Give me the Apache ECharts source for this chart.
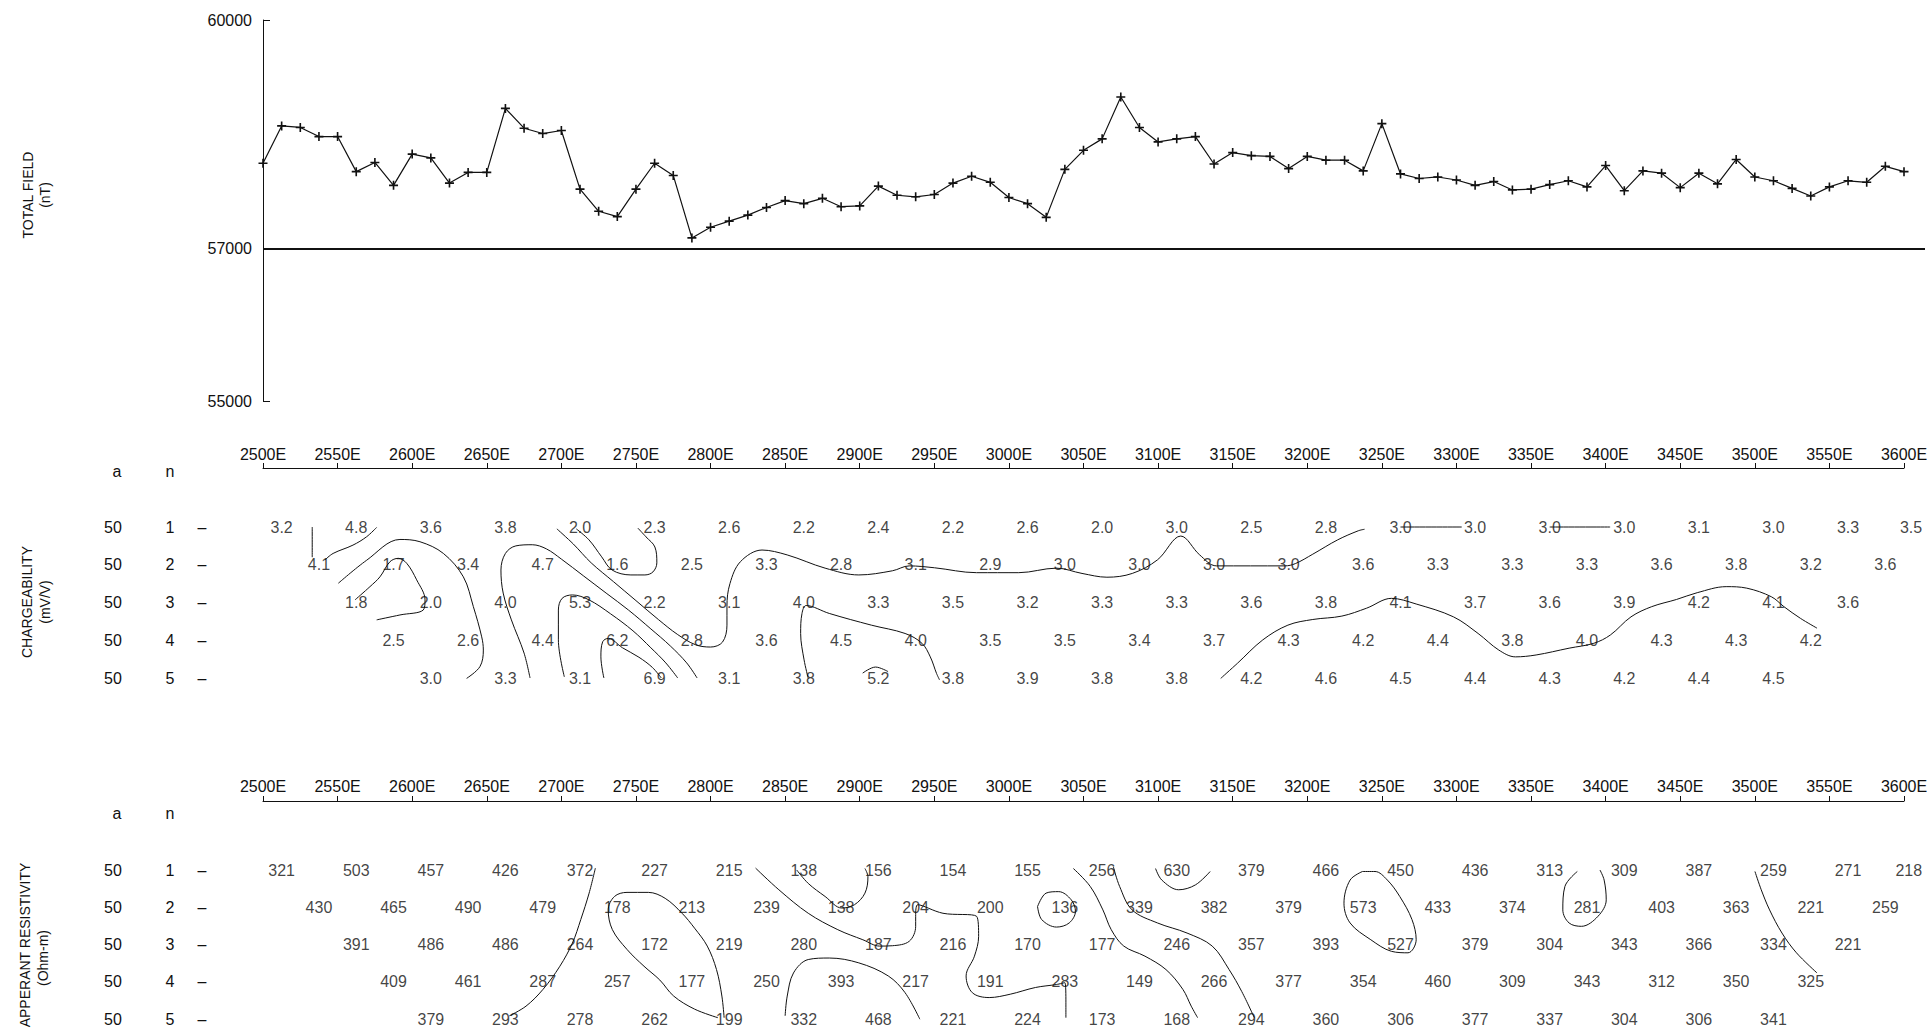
<!DOCTYPE html>
<html>
<head>
<meta charset="utf-8">
<title>Line 2500E-3600E: magnetics and IP pseudosections</title>
<script src="https://cdn.jsdelivr.net/npm/echarts@6/dist/echarts.min.js"></script>
<style>
  html, body { margin: 0; padding: 0; background: #ffffff; }
  #chart { width: 1928px; height: 1034px; }
</style>
</head>
<body>
<div id="chart"></div>
<script>
// ---------------- Total magnetic field (nT), readings every 12.5 m from 2500E ----------------
const magStart = 2500;
const magStep = 12.5;
const totalField = [
  58120, 58610, 58590, 58470, 58470, 58010, 58130, 57830, 58240, 58190, 57860, 58000,
  58000, 58840, 58580, 58510, 58550, 57780, 57490, 57420, 57780, 58120, 57960, 57140,
  57280, 57360, 57440, 57540, 57630, 57590, 57660, 57550, 57560, 57820, 57700, 57680,
  57710, 57860, 57950, 57870, 57670, 57590, 57410, 58040, 58290, 58440,
  58990, 58590, 58400, 58440, 58470, 58110, 58260, 58220, 58210, 58050, 58210, 58160,
  58160, 58020, 58640, 57980, 57920, 57940, 57900, 57830, 57880, 57770,
  57780, 57840, 57890, 57810, 58090, 57760, 58020, 57990, 57800, 57990, 57850, 58170,
  57940, 57890, 57790, 57690, 57810, 57890, 57870, 58080, 58010
];
const fieldTicks = [55000, 57000, 60000];
const fieldBase = 57000;

// ---------------- Dipole-dipole survey, a = 50 m, n = 1..5 ----------------
const dipoleA = 50;
const firstPlotPoint = 2512.5;   // plotting point of n = 1, first reading
const nShift = 25;               // plotting point moves 25 m per n
const stationTicks = { min: 2500, max: 3600, step: 50 };

// Chargeability (mV/V)
const ipN1 = [3.2, 4.8, 3.6, 3.8, 2.0, 2.3, 2.6, 2.2, 2.4, 2.2, 2.6, 2.0, 3.0, 2.5, 2.8, 3.0, 3.0, 3.0, 3.0, 3.1, 3.0, 3.3, 3.5];
const ipN2 = [4.1, 1.7, 3.4, 4.7, 1.6, 2.5, 3.3, 2.8, 3.1, 2.9, 3.0, 3.0, 3.0, 3.0, 3.6, 3.3, 3.3, 3.3, 3.6, 3.8, 3.2, 3.6];
const ipN3 = [1.8, 2.0, 4.0, 5.3, 2.2, 3.1, 4.0, 3.3, 3.5, 3.2, 3.3, 3.3, 3.6, 3.8, 4.1, 3.7, 3.6, 3.9, 4.2, 4.1, 3.6];
const ipN4 = [2.5, 2.6, 4.4, 6.2, 2.8, 3.6, 4.5, 4.0, 3.5, 3.5, 3.4, 3.7, 4.3, 4.2, 4.4, 3.8, 4.0, 4.3, 4.3, 4.2];
const ipN5 = [3.0, 3.3, 3.1, 6.9, 3.1, 3.8, 5.2, 3.8, 3.9, 3.8, 3.8, 4.2, 4.6, 4.5, 4.4, 4.3, 4.2, 4.4, 4.5];

// Apparent resistivity (Ohm-m)
const resN1 = [321, 503, 457, 426, 372, 227, 215, 138, 156, 154, 155, 256, 630, 379, 466, 450, 436, 313, 309, 387, 259, 271, 218];
const resN2 = [430, 465, 490, 479, 178, 213, 239, 138, 204, 200, 136, 339, 382, 379, 573, 433, 374, 281, 403, 363, 221, 259];
const resN3 = [391, 486, 486, 264, 172, 219, 280, 187, 216, 170, 177, 246, 357, 393, 527, 379, 304, 343, 366, 334, 221];
const resN4 = [409, 461, 287, 257, 177, 250, 393, 217, 191, 283, 149, 266, 377, 354, 460, 309, 343, 312, 350, 325];
const resN5 = [379, 293, 278, 262, 199, 332, 468, 221, 224, 173, 168, 294, 360, 306, 377, 337, 304, 306, 341];

// Hand-contoured chargeability lines, points as [station, n]
const ipContours = [
  [[2533, 1.0], [2533, 1.8]],
  [[2541.6, 1.87], [2547, 1.70], [2560.3, 1.48], [2569.4, 1.26], [2576.2, 1.01]],
  [[2550.5, 2.49], [2569.5, 1.88], [2591.8, 1.33], [2605.2, 1.39], [2620.9, 1.70], [2634.3, 2.32], [2641, 3.11], [2646.6, 3.91], [2647.7, 4.26], [2645.4, 4.70], [2636.5, 5.01]],
  [[2561.7, 2.93], [2571.7, 2.58], [2578.4, 2.32], [2585.1, 1.92], [2590.7, 1.83], [2596.3, 1.96], [2603, 2.40], [2608.6, 2.93], [2607.4, 3.20], [2591.8, 3.33], [2576.2, 3.46]],
  [[2679, 5.0], [2675, 4.34], [2666.5, 3.46], [2661, 2.75], [2659.5, 2.14], [2662.5, 1.70], [2669.5, 1.50], [2680.5, 1.47], [2690, 1.58], [2700, 1.85], [2715, 2.3], [2730, 2.75], [2745, 3.2], [2760, 3.7], [2773, 4.15], [2784, 4.6], [2791, 5.0]],
  [[2702, 4.97], [2698, 3.99], [2698, 3.2], [2700.5, 2.89], [2707.5, 2.80], [2718.5, 2.93], [2733, 3.3], [2748, 3.75], [2760, 4.2], [2770, 4.6], [2778, 5.0]],
  [[2728.5, 5.0], [2726.5, 4.44], [2727.7, 4.04], [2731.4, 3.95], [2741, 4.2], [2752, 4.45], [2761, 4.72], [2767, 5.0]],
  [[2710, 1.05], [2718.5, 1.34], [2727, 1.79], [2734, 2.14], [2746.6, 2.27], [2756, 2.27], [2761.4, 2.19], [2764, 1.95], [2762.7, 1.53], [2756.7, 1.26], [2751.3, 1.03]],
  [[2697, 1.05], [2708, 1.45], [2720, 1.95], [2735, 2.45], [2750, 2.95], [2765, 3.45], [2778, 3.85], [2790, 4.12], [2800, 4.18], [2808, 4.05], [2811, 3.6], [2811, 3.1], [2813, 2.5], [2820, 1.92], [2834.5, 1.61], [2851.4, 1.74], [2876.8, 2.09], [2899.4, 2.27], [2921.9, 2.16], [2933.2, 2.03], [2950.1, 2.08], [2978.3, 2.21], [3006.6, 2.21], [3031.9, 2.09], [3049, 2.23], [3065.7, 2.33], [3082.7, 2.23], [3099.6, 1.87], [3115.2, 1.24], [3127.9, 1.74], [3139.2, 2.03], [3185, 2.03], [3192, 1.97], [3203.7, 1.72], [3220.4, 1.34], [3234.2, 1.10], [3238.4, 1.06]],
  [[3262.5, 1.0], [3303.5, 1.0]],
  [[3362.5, 1.0], [3403, 1.0]],
  [[2865.5, 5.01], [2862.7, 4.52], [2860.4, 3.82], [2861.3, 3.29], [2864.1, 3.08], [2879.6, 3.29], [2907.8, 3.6], [2930.4, 3.82], [2941.7, 4.08], [2947.3, 4.44], [2951.5, 4.88], [2953.5, 5.05]],
  [[2902, 4.87], [2910.6, 4.71], [2919, 4.83]],
  [[3142, 5.01], [3153.2, 4.61], [3170.2, 3.99], [3187, 3.6], [3203.7, 3.45], [3223.2, 3.36], [3239.8, 3.15], [3256.4, 2.89], [3273, 3.04], [3298, 3.38], [3314.5, 3.82], [3328.4, 4.26], [3339.5, 4.44], [3353.4, 4.39], [3375.5, 4.21], [3392.1, 4.08], [3403.2, 3.86], [3417, 3.38], [3430.9, 3.11], [3447.5, 2.92], [3461.4, 2.74], [3480.8, 2.58], [3494.6, 2.62], [3511.2, 2.85], [3519.5, 3.11], [3530.6, 3.42], [3541.7, 3.68]]
];

// Hand-contoured resistivity lines, points as [station, n]
const resContours = [
  [[2722.8, 0.95], [2718.6, 1.62], [2713, 2.33], [2707.4, 2.96], [2699, 3.58], [2687.7, 4.2], [2676.3, 4.65], [2665.1, 4.91]],
  [[2809.1, 4.96], [2807.6, 4.38], [2804, 3.67], [2797.8, 3.04], [2789.3, 2.56], [2780.9, 2.16], [2769.6, 1.76], [2758.3, 1.6], [2744, 1.6], [2735.6, 1.71], [2731.4, 2.07], [2734.2, 2.6], [2744, 3.13], [2755.4, 3.58], [2766, 3.95], [2775.3, 4.38], [2789.3, 4.73], [2804.9, 4.96]],
  [[2830.2, 0.95], [2845.8, 1.53], [2865.5, 2.16], [2885.3, 2.6], [2902.1, 2.87], [2913.4, 3.04], [2921.9, 3.03], [2933.2, 2.91], [2937.5, 2.51], [2937.5, 2.24], [2938.9, 1.93], [2955.8, 2.16], [2978.3, 2.24], [2979.7, 2.78], [2976.9, 3.31], [2971.3, 3.84], [2975.5, 4.29], [2986.8, 4.42], [3000.9, 4.33], [3017.8, 4.15], [3031.9, 4.07], [3037.5, 4.02], [3038.2, 4.56], [3038.2, 4.96]],
  [[2857.8, 1.0], [2865.5, 1.36], [2876.8, 1.71], [2888, 2.02], [2896.5, 1.93], [2903.5, 1.62], [2905.5, 1.18], [2903.5, 0.96]],
  [[3019.2, 1.98], [3024.9, 1.62], [3033.4, 1.58], [3041.8, 1.8], [3044.6, 2.11], [3040.4, 2.42], [3031.9, 2.53], [3022, 2.33], [3019.2, 1.98]],
  [[3043.2, 0.96], [3054.5, 1.44], [3063, 2.07], [3068.6, 2.6], [3077, 3.04], [3091.2, 3.31], [3105.3, 3.67], [3116.6, 4.2], [3122.2, 4.65], [3126.5, 4.96]],
  [[3070, 0.91], [3074.2, 1.44], [3082.6, 2.07], [3099.6, 2.42], [3119.4, 2.69], [3136.3, 3.04], [3147.6, 3.67], [3156.1, 4.26], [3164.5, 4.96]],
  [[3098.3, 0.96], [3102.5, 1.27], [3113.8, 1.53], [3125, 1.4], [3134.9, 1.04]],
  [[3237, 1.04], [3228.7, 1.27], [3224.6, 1.89], [3228.7, 2.42], [3242.6, 2.87], [3256.4, 3.18], [3267.5, 3.22], [3273, 2.87], [3270.2, 2.33], [3262, 1.71], [3253.7, 1.27], [3245.4, 1.04], [3237, 1.04]],
  [[3381, 1.04], [3372.7, 1.44], [3371.3, 2.07], [3375.5, 2.42], [3383.8, 2.51], [3394.9, 2.24], [3400.4, 1.8], [3399, 1.27], [3396.2, 1.0]],
  [[3500.1, 1.04], [3504.3, 1.53], [3509.9, 2.07], [3518.2, 2.69], [3527.9, 3.22], [3541.7, 3.76]],
  [[2850, 4.91], [2851.4, 4.38], [2855.6, 3.76], [2865.5, 3.4], [2879.6, 3.36], [2899.4, 3.49], [2919.1, 3.84], [2930.4, 4.29], [2940.3, 5.0]]
];

// ---------------- layout ----------------
const FONT = '"Liberation Sans", Arial, Helvetica, sans-serif';
const INK = '#111111';
const plotLeft = 263;
const plotWidth = 1641;                         // 2500E .. 3600E
const pxPerMetre = plotWidth / (stationTicks.max - stationTicks.min);
const magGrid = { top: 20, height: 381 };
const magRightEdge = 1925;
const sections = [
  { axisY: 468, firstRowY: 527, rowGap: 37.75, height: 230, headerY: 471 },
  { axisY: 801, firstRowY: 870, rowGap: 37.3, height: 233, headerY: 813 }
];
sections.forEach(s => {
  s.nMin = 1 - (s.firstRowY - s.axisY) / s.rowGap;
  s.nMax = s.nMin + s.height / s.rowGap;
});

const chart = echarts.init(document.getElementById('chart'), null, { renderer: 'svg', width: 1928, height: 1034 });

// "+" marker
const plusPath = 'path://M4.1,0h1.8v4.1h4.1v1.8h-4.1v4.1h-1.8v-4.1h-4.1v-1.8h4.1z';

const magData = totalField.map((v, i) => [magStart + magStep * i, v]);

function readingSeries(rows, axisIndex, fmt) {
  const data = [];
  rows.forEach((vals, r) => {
    vals.forEach((v, k) => {
      const station = firstPlotPoint + nShift * r + dipoleA * k;
      const item = { value: [station, r + 1, v] };
      // readings plotted past the last station are set to end at their point
      if (station > stationTicks.max) item.label = { position: 'left', distance: 0 };
      data.push(item);
    });
  });
  return {
    type: 'scatter', xAxisIndex: axisIndex, yAxisIndex: axisIndex, data,
    symbolSize: 1, itemStyle: { color: 'rgba(0,0,0,0)' }, clip: false, silent: true, z: 3,
    label: {
      show: true, position: 'inside', formatter: p => fmt(p.value[2]),
      fontFamily: FONT, fontSize: 16, color: INK
    }
  };
}

function contourSeries(lines, axisIndex) {
  return lines.map(pts => ({
    type: 'line', xAxisIndex: axisIndex, yAxisIndex: axisIndex, data: pts,
    smooth: 0.35, symbol: 'none', clip: false, silent: true, z: 2,
    lineStyle: { color: INK, width: 1 }
  }));
}

function stationAxis(gridIndex, margin) {
  return {
    type: 'value', gridIndex, position: 'top',
    min: stationTicks.min, max: stationTicks.max, interval: stationTicks.step,
    axisLine: { show: true, onZero: false, lineStyle: { color: INK, width: 1 } },
    axisTick: { show: true, inside: false, length: 5, lineStyle: { color: INK, width: 1 } },
    axisLabel: {
      show: true, margin, formatter: v => v + 'E', hideOverlap: false,
      fontFamily: FONT, fontSize: 16, color: INK, showMinLabel: true, showMaxLabel: true
    },
    splitLine: { show: false }
  };
}

// left-hand annotations
const graphics = [];
function text(str, x, y, size, rotate) {
  graphics.push({
    type: 'text', x, y, rotation: rotate ? Math.PI / 2 : 0, silent: true,
    style: {
      text: str, fill: INK, font: size + 'px ' + FONT, fontSize: size, fontFamily: FONT,
      textAlign: 'center', align: 'center', textVerticalAlign: 'middle', verticalAlign: 'middle'
    }
  });
}
text('TOTAL FIELD', 28, 195, 14, true);
text('(nT)', 45, 195, 14, true);
text('CHARGEABILITY', 27, 602, 14, true);
text('(mV/V)', 45, 602, 14, true);
text('APPERANT RESISTIVITY', 25, 945, 14, true);
text('(Ohm-m)', 43, 958, 14, true);
sections.forEach(s => {
  text('a', 117, s.headerY, 16, false);
  text('n', 170, s.headerY, 16, false);
  for (let n = 1; n <= 5; n++) {
    const y = s.firstRowY + (n - 1) * s.rowGap;
    text(String(dipoleA), 113, y, 16, false);
    text(String(n), 170, y, 16, false);
    text('\u2013', 202, y, 16, false);
  }
});

const option = {
  animation: false,
  backgroundColor: '#ffffff',
  graphic: graphics,
  grid: [
    { left: plotLeft, top: magGrid.top, width: magRightEdge - plotLeft, height: magGrid.height, containLabel: false, outerBoundsMode: 'none' },
    { left: plotLeft, top: sections[0].axisY, width: plotWidth, height: sections[0].height, containLabel: false, outerBoundsMode: 'none' },
    { left: plotLeft, top: sections[1].axisY, width: plotWidth, height: sections[1].height, containLabel: false, outerBoundsMode: 'none' }
  ],
  xAxis: [
    { type: 'value', gridIndex: 0, min: stationTicks.min,
      max: stationTicks.min + (magRightEdge - plotLeft) / pxPerMetre, show: false },
    stationAxis(1, 6),
    stationAxis(2, 7)
  ],
  yAxis: [
    {
      type: 'value', gridIndex: 0, min: fieldTicks[0], max: fieldTicks[fieldTicks.length - 1],
      axisLine: { show: true, lineStyle: { color: INK, width: 1 } },
      axisTick: { show: true, inside: true, length: 7, customValues: fieldTicks, lineStyle: { color: INK, width: 1 } },
      axisLabel: {
        show: true, margin: 11, customValues: fieldTicks, formatter: v => String(v),
        fontFamily: FONT, fontSize: 16, color: INK
      },
      splitLine: { show: false }
    },
    { type: 'value', gridIndex: 1, inverse: true, min: sections[0].nMin, max: sections[0].nMax, show: false },
    { type: 'value', gridIndex: 2, inverse: true, min: sections[1].nMin, max: sections[1].nMax, show: false }
  ],
  series: [
    {
      type: 'line', xAxisIndex: 0, yAxisIndex: 0, data: magData,
      symbol: plusPath, symbolSize: 9, showAllSymbol: true,
      itemStyle: { color: INK }, lineStyle: { color: INK, width: 1.2 }, silent: true, z: 3,
      markLine: {
        silent: true, symbol: 'none', label: { show: false },
        lineStyle: { color: INK, width: 2, type: 'solid' },
        data: [{ yAxis: fieldBase }]
      }
    },
    readingSeries([ipN1, ipN2, ipN3, ipN4, ipN5], 1, v => v.toFixed(1)),
    readingSeries([resN1, resN2, resN3, resN4, resN5], 2, v => String(v)),
    ...contourSeries(ipContours, 1),
    ...contourSeries(resContours, 2)
  ]
};

chart.setOption(option);
</script>
</body>
</html>
